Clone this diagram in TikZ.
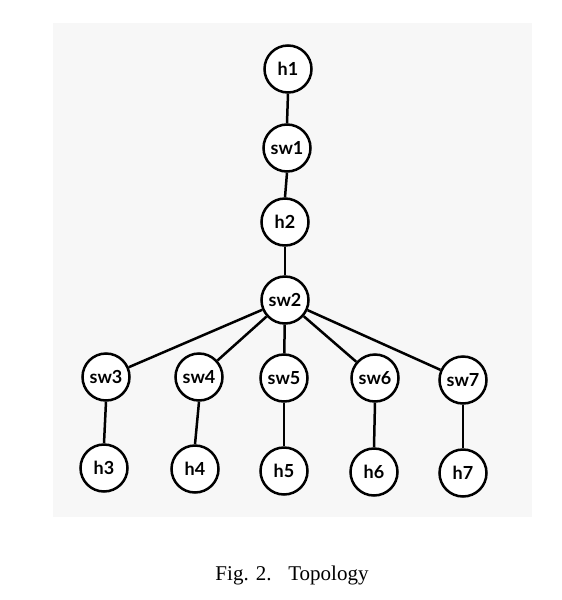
\documentclass[tikz,border=0pt]{standalone}
\usepackage{fontspec}
\setmainfont{Liberation Serif}
\newfontfamily\latofont{Lato}
\usepackage{tikz}
\usetikzlibrary{backgrounds,positioning}
\definecolor{bggray}{HTML}{F7F7F7}
\tikzstyle{hostnode} = [draw, circle, fill=white, line width=2.5pt, minimum size=47pt, inner sep=0pt, text centered, font=\latofont\bfseries\fontsize{18}{18}\selectfont]
\tikzstyle{switchnode} = [draw, circle, fill=white, line width=2.5pt, minimum size=47pt, inner sep=0pt, text centered, font=\latofont\bfseries\fontsize{18}{18}\selectfont]
\tikzstyle{link} = [draw, line width=2.5pt, color=black]
\newcommand{\hostnode}[2]{node (h#1) [hostnode] {#2}}
\newcommand{\switchnode}[2]{node (s#1) [switchnode] {#2}}

\begin{document}
\begin{tikzpicture}[x=1pt,y=-1pt]
\useasboundingbox (0,0) rectangle (562,600);
\fill[bggray] (53,23) rectangle (532,517);

\path (288,69) \hostnode{1}{h1};
\path (h1)+(-1,79) \switchnode{1}{sw1};
\path [link] (h1.south) -- (s1.north) node[] {};
\path (s1)+(-2,74) \hostnode{2}{h2};
\path [link] (s1.south) -- (h2.north) node[] {};
\path (h2)+(0,78) \switchnode{2}{sw2};
\path [link] (h2.south) -- (s2.north) node[] {};

\path (s2)+(-179,77) \switchnode{3}{sw3};
\path (s2)+(-86,77) \switchnode{4}{sw4};
\path (s2)+(-1,78) \switchnode{5}{sw5};
\path (s2)+(90,78) \switchnode{6}{sw6};
\path (s2)+(178,80) \switchnode{7}{sw7};
\path [link] (s2) -- (s3) node[] {};
\path [link] (s2) -- (s4) node[] {};
\path [link] (s2) -- (s5) node[] {};
\path [link] (s2) -- (s6) node[] {};
\path [link] (s2) -- (s7) node[] {};

\path (s3)+(-2,91) \hostnode{3}{h3};
\path (s4)+(-4,92) \hostnode{4}{h4};
\path (s5)+(0,93) \hostnode{5}{h5};
\path (s6)+(-1,94) \hostnode{6}{h6};
\path (s7)+(0,93) \hostnode{7}{h7};
\path [link] (s3.south) -- (h3.north) node[] {};
\path [link] (s4.south) -- (h4.north) node[] {};
\path [link] (s5.south) -- (h5.north) node[] {};
\path [link] (s6.south) -- (h6.north) node[] {};
\path [link] (s7.south) -- (h7.north) node[] {};

\path (292,575) node (caption) [font=\fontsize{21}{21}\selectfont] {Fig. 2.\hspace{0.8em}Topology};
\end{tikzpicture}
\end{document}
